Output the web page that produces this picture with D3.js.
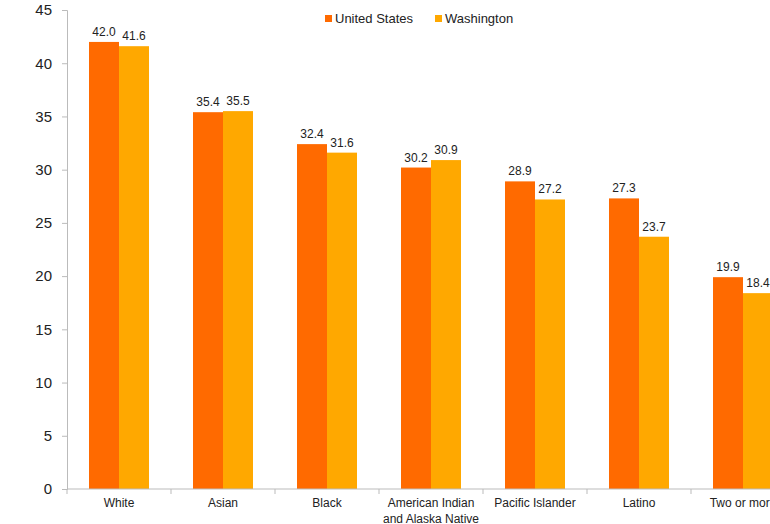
<!DOCTYPE html>
<html>
<head>
<meta charset="utf-8">
<script src="https://cdn.jsdelivr.net/npm/d3@7"></script>
<style>
  body { margin: 0; background: #fff; }
  text { font-family: "Liberation Sans", Arial, sans-serif; fill: #222; }
</style>
</head>
<body>
<svg id="chart"></svg>
<script>
const categories = ['White', 'Asian', 'Black', 'American Indian\nand Alaska Native', 'Pacific Islander', 'Latino', 'Two or more'];
const series = ['United States', 'Washington'];
const usValues = [42.0, 35.4, 32.4, 30.2, 28.9, 27.3, 19.9];
const waValues = [41.6, 35.5, 31.6, 30.9, 27.2, 23.7, 18.4];
const yTicks = [0, 5, 10, 15, 20, 25, 30, 35, 40, 45];
const colors = ['#ff6a00', '#ffa800'];

const width = 770, height = 524;
const margin = {top: 10, left: 67, bottom: 35};
const bandWidth = 104;

const svg = d3.select('#chart').attr('width', width).attr('height', height);

const rows = categories.map((c, i) => ({cat: c, values: [usValues[i], waValues[i]]}));

const x0 = d3.scaleBand()
    .domain(categories)
    .range([margin.left, margin.left + bandWidth * categories.length]);

const x1 = d3.scaleBand()
    .domain(series)
    .range([22, 82]);

const y = d3.scaleLinear()
    .domain([0, 45])
    .range([height - margin.bottom, margin.top]);

// y axis
const yaxis = d3.axisLeft(y).tickValues(yTicks).tickSize(5).tickPadding(10);
const yg = svg.append('g')
    .attr('transform', `translate(${margin.left},0)`)
    .call(yaxis);
yg.select('.domain').attr('stroke', '#bbb');
yg.selectAll('.tick line').attr('stroke', '#bbb');
yg.selectAll('.tick text').style('font-size', '15px').attr('fill', '#222');

// bars
const groups = svg.selectAll('.grp')
    .data(rows)
    .join('g')
    .attr('class', 'grp')
    .attr('transform', d => `translate(${x0(d.cat)},0)`);

groups.selectAll('rect')
    .data(d => d.values.map((v, i) => ({s: series[i], v: v, i: i})))
    .join('rect')
    .attr('x', d => x1(d.s))
    .attr('y', d => y(d.v))
    .attr('width', x1.bandwidth())
    .attr('height', d => y(0) - y(d.v))
    .attr('fill', d => colors[d.i]);

groups.selectAll('.val')
    .data(d => d.values.map((v, i) => ({s: series[i], v: v})))
    .join('text')
    .attr('class', 'val')
    .attr('x', d => x1(d.s) + x1.bandwidth() / 2)
    .attr('y', d => y(d.v) - 6)
    .attr('text-anchor', 'middle')
    .style('font-size', '12px')
    .attr('fill', '#333')
    .text(d => d.v.toFixed(1));

// x axis
const xg = svg.append('g')
    .attr('transform', `translate(0,${y(0)})`);
xg.append('line')
    .attr('x1', margin.left).attr('x2', x0.range()[1])
    .attr('stroke', '#bbb');
xg.selectAll('.xt')
    .data(categories.map(c => x0(c)).concat([x0.range()[1]]))
    .join('line')
    .attr('class', 'xt')
    .attr('x1', d => d).attr('x2', d => d)
    .attr('y1', 0).attr('y2', 5)
    .attr('stroke', '#bbb');

const labels = xg.selectAll('.xl')
    .data(categories)
    .join('text')
    .attr('class', 'xl')
    .attr('text-anchor', 'middle')
    .attr('transform', d => `translate(${x0(d) + bandWidth / 2},18)`)
    .style('font-size', '12px');
labels.selectAll('tspan')
    .data(d => d.split('\n'))
    .join('tspan')
    .attr('x', 0)
    .attr('dy', (d, i) => i === 0 ? 0 : 16)
    .text(d => d);

// legend
const legend = svg.append('g').attr('transform', 'translate(325,13)');
const lx = [0, 110];
series.forEach((s, i) => {
    legend.append('rect')
        .attr('x', lx[i]).attr('y', 2)
        .attr('width', 7).attr('height', 7)
        .attr('fill', colors[i]);
    legend.append('text')
        .attr('x', lx[i] + 10).attr('y', 10)
        .style('font-size', '13px')
        .text(s);
});
</script>
</body>
</html>
